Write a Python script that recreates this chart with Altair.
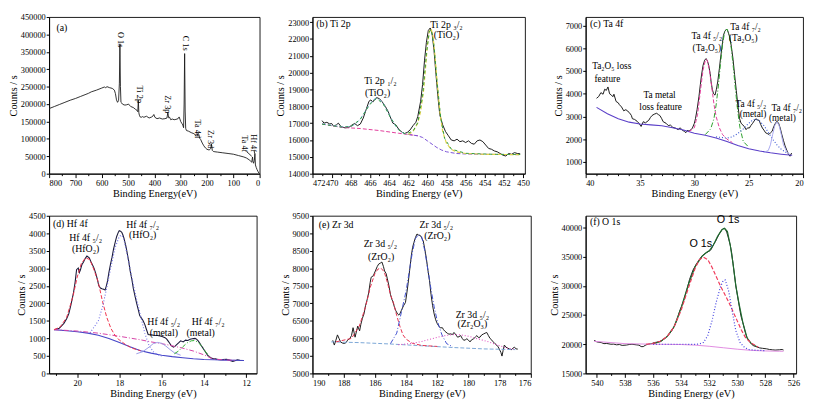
import altair as alt
import pandas as pd

SERIF = "Liberation Serif"
SANS = "Liberation Sans"

# ---------------- (a) survey ----------------
a_E = [800, 780, 760, 740, 720, 700, 680, 660, 650, 640,
       620, 600, 590, 585, 580, 570, 560, 552, 548, 544,
       540, 536, 533, 531, 529, 527, 524, 520, 512, 505,
       498, 495, 490, 480, 472, 466, 463, 461, 459, 457,
       454, 450, 445, 440, 430, 420, 410, 405, 402, 398,
       390, 380, 370, 360, 352, 349, 347, 345, 342, 338,
       332, 325, 318, 310, 306, 303, 300, 296, 292, 289,
       287, 285, 283, 281, 278, 270, 260, 250, 242, 238,
       234, 231, 228, 224, 218, 212, 206, 200, 192, 186,
       183, 180, 176, 170, 160, 140, 120, 100, 80, 60,
       50, 40, 34, 30, 27, 25, 23, 20, 18, 16,
       13, 10, 6, 3, 1]
a_C = [187000, 193000, 199000, 205000, 211000, 216000, 222000, 228000, 231000, 235000,
       240000, 246000, 249000, 247000, 250000, 247000, 245000, 240000, 230000, 212000,
       205000, 210000, 260000, 373000, 250000, 205000, 203000, 199000, 197000, 198000,
       200000, 197000, 193000, 190000, 185000, 182000, 178000, 211000, 175000, 168000,
       163000, 162000, 164000, 162000, 165000, 160000, 163000, 166000, 170000, 162000,
       158000, 160000, 157000, 158000, 160000, 176000, 168000, 160000, 162000, 155000,
       157000, 155000, 156000, 158000, 163000, 157000, 150000, 145000, 140000, 132000,
       200000, 345000, 180000, 130000, 124000, 122000, 118000, 115000, 110000, 107000,
       116000, 112000, 102000, 98000, 88000, 80000, 74000, 70000, 68000, 72000,
       85000, 67000, 64000, 63000, 62000, 60000, 58000, 56000, 52000, 48000,
       45000, 40000, 36000, 33000, 48000, 34000, 30000, 38000, 58000, 25000,
       18000, 12000, 6000, 2000, 500]
a_lab = ["O 1s", "Ti 2p", "Zr 3p", "C 1s", "Ta 4d", "Zr 3d", "Ta 4f", "Hf 4f"]
a_labE = [526, 454, 348, 280, 236, 186, 55, 22]
a_labC = [385000, 228000, 199000, 375000, 129000, 99000, 86000, 88000]
a_arrE = [50, 21]
a_arrC = [64000, 66000]
a_arrE2 = [30, 19]
a_arrC2 = [50000, 58000]

# ---------------- (b) Ti 2p ----------------
b_E = [471.0, 470.8, 470.5, 470.2, 470.0, 469.8, 469.5, 469.3, 469.0, 468.6,
       468.2, 467.9, 467.6, 467.3, 467.0, 466.7, 466.4, 466.1, 465.9, 465.7,
       465.5, 465.3, 465.0, 464.7, 464.4, 464.1, 463.9, 463.6, 463.3, 463.0,
       462.7, 462.4, 462.1, 461.8, 461.5, 461.2, 461.0, 460.7, 460.5, 460.3,
       460.1, 459.9, 459.7, 459.5, 459.3, 459.1, 458.9, 458.7, 458.4, 458.1,
       457.8, 457.5, 457.2, 456.9, 456.6, 456.3, 456.0, 455.7, 455.4, 455.1,
       454.8, 454.5, 454.2, 453.9, 453.6, 453.3, 453.0, 452.7, 452.4, 452.1,
       451.8, 451.5, 451.2, 450.9, 450.6, 450.3]
b_C = [17150, 17000, 17050, 16950, 16980, 16820, 16900, 17000, 16780, 16720,
       16750, 16880, 16980, 16850, 16950, 17300, 17800, 18300, 18380, 18250,
       18430, 18520, 18450, 18250, 18000, 17700, 17400, 17000, 16900, 16650,
       16480, 16380, 16450, 16600, 16850, 17050, 17400, 18300, 19300, 20700,
       21800, 22500, 22650, 22300, 21300, 19900, 18600, 17500, 16900, 16500,
       16250, 16000, 15950, 16050, 15900, 15950, 15850, 15950, 15800, 15750,
       15950, 16000, 15900, 15700, 15500, 15450, 15350, 15300, 15200, 15100,
       15050, 15200, 15150, 15250, 15200, 15180]
b_bg1_E = [471, 469, 467, 465, 463, 462, 461]
b_bg1_C = [16950, 16750, 16680, 16560, 16400, 16330, 16250]
b_bg2_E = [462, 461, 460.5, 460, 459.5, 459, 458.5, 458, 457, 456, 454, 452, 450.3]
b_bg2_C = [16330, 16250, 16150, 15950, 15750, 15550, 15400, 15300, 15200, 15170, 15150, 15140, 15130]
b_p1_E = [471, 469, 468, 467.5, 467, 466.5, 466, 465.6, 465.3, 465, 464.6, 464.2, 463.8, 463.4, 463, 462.5, 462]
b_p1_C = [16960, 16780, 16800, 16950, 17250, 17700, 18150, 18400, 18480, 18400, 18150, 17750, 17300, 16900, 16600, 16400, 16330]
b_p2_E = [462, 461.5, 461, 460.7, 460.4, 460.2, 460, 459.8, 459.6, 459.4, 459.2, 459, 458.7, 458.4, 458, 457.5, 457, 456, 454, 452, 450.3]
b_p2_C = [16330, 16500, 17000, 17700, 18900, 20200, 21600, 22450, 22600, 22100, 21000, 19600, 17700, 16500, 15800, 15450, 15300, 15200, 15150, 15140, 15130]
b_env_E = [471, 469, 468, 467, 466, 465.3, 464.6, 463.8, 463, 462.3, 461.5, 461, 460.5, 460.1, 459.8, 459.6, 459.3, 459, 458.6, 458.2, 457.5, 456, 453, 450.3]
b_env_C = [16940, 16770, 16790, 17230, 18120, 18470, 18130, 17280, 16600, 16360, 16520, 17030, 18600, 21100, 22420, 22550, 21600, 19550, 17300, 16100, 15460, 15210, 15150, 15140]
b_lab = ["Ti 2p \u2081/\u2082", "(TiO\u2082)", "Ti 2p \u2083/\u2082", "(TiO\u2082)"]
b_labE = [464.9, 465.2, 458.0, 458.0]
b_labC = [19520, 18770, 22850, 22250]

# ---------------- (c) Ta 4f ----------------
c_E = [39.0, 38.8, 38.6, 38.4, 38.25, 38.1, 37.95, 37.8, 37.65, 37.5,
       37.4, 37.2, 37.0, 36.9, 36.7, 36.5, 36.3, 36.0, 35.8, 35.7,
       35.5, 35.27, 35.1, 34.9, 34.7, 34.5, 34.2, 34.05, 33.9, 33.7,
       33.47, 33.3, 33.17, 33.0, 32.87, 32.6, 32.4, 32.2, 31.98, 31.7,
       31.5, 31.3, 31.08, 30.9, 30.8, 30.6, 30.5, 30.3, 30.18, 30.0,
       29.9, 29.75, 29.58, 29.45, 29.34, 29.2, 29.05, 28.92, 28.8, 28.68,
       28.55, 28.47, 28.35, 28.23, 28.1, 27.97, 27.84, 27.7, 27.6, 27.45,
       27.33, 27.2, 27.04, 26.95, 26.85, 26.74, 26.6, 26.44, 26.3, 26.14,
       26.0, 25.84, 25.7, 25.54, 25.4, 25.24, 25.1, 24.94, 24.8, 24.64,
       24.5, 24.34, 24.2, 24.04, 23.9, 23.74, 23.6, 23.44, 23.3, 23.14,
       23.0, 22.84, 22.7, 22.54, 22.4, 22.25, 22.1, 21.95, 21.8, 21.65,
       21.5, 21.35, 21.2, 21.05]
c_C = [3800, 3880, 4050, 3980, 4200, 4150, 4300, 4000, 3950, 3870,
       3980, 3660, 3600, 3520, 3420, 3250, 3300, 3180, 3050, 2900,
       2870, 2790, 2700, 2560, 2770, 2720, 2830, 2950, 3040, 3100,
       3140, 3080, 3040, 2900, 2770, 2700, 2600, 2620, 2520, 2480,
       2420, 2500, 2380, 2350, 2280, 2400, 2350, 2420, 2490, 2700,
       2900, 3300, 3870, 4400, 4830, 5250, 5480, 5550, 5450, 5250,
       4900, 4560, 4200, 4000, 3940, 4200, 4560, 5100, 5530, 6100,
       6560, 6750, 6850, 6800, 6650, 6490, 6100, 5520, 4850, 4140,
       3500, 2900, 2700, 2630, 2550, 2420, 2500, 2490, 2600, 2700,
       2800, 2900, 2850, 2830, 2650, 2490, 2400, 2280, 2250, 2210,
       2280, 2350, 2550, 2700, 2790, 2700, 2490, 2200, 1940, 1700,
       1520, 1350, 1250, 1390]
c_bg_E = [39, 38, 37, 36, 35, 34, 33, 32, 31, 30, 29, 28, 27, 26, 25, 24, 23, 22, 21]
c_bg_C = [3400, 3120, 2900, 2750, 2670, 2630, 2590, 2500, 2400, 2260, 2170, 2050, 1900, 1720, 1580, 1480, 1400, 1340, 1290]
c_p1_E = [30.5, 30, 29.7, 29.4, 29.2, 29.0, 28.9, 28.8, 28.6, 28.4, 28.2, 28.0, 27.7, 27.4, 27.0, 26.5]
c_p1_C = [2330, 2500, 3100, 4300, 5050, 5450, 5520, 5450, 5000, 4300, 3550, 3000, 2500, 2200, 2000, 1850]
c_p2_E = [29.0, 28.5, 28.2, 28.0, 27.8, 27.6, 27.4, 27.2, 27.0, 26.8, 26.6, 26.4, 26.2, 26.0, 25.8, 25.5, 25.0]
c_p2_C = [2200, 2450, 2900, 3500, 4300, 5300, 6200, 6750, 6850, 6600, 6000, 5100, 4100, 3200, 2500, 1900, 1650]
c_p3_E = [28, 27, 26.5, 26, 25.5, 25, 24.6, 24.3, 24.0, 23.6, 23.2, 22.8, 22.4, 22.0, 21.5]
c_p3_C = [2100, 2050, 2100, 2250, 2450, 2700, 2850, 2870, 2800, 2600, 2300, 2000, 1750, 1550, 1400]
c_p4_E = [23.6, 23.2, 23.0, 22.8, 22.6, 22.4, 22.2, 22.0, 21.8, 21.5, 21.2]
c_p4_C = [1420, 1500, 1750, 2200, 2600, 2750, 2600, 2200, 1750, 1450, 1320]
c_lab = ["Ta\u2082O\u2085 loss", "feature", "Ta metal", "loss feature",
         "Ta 4f \u2085/\u2082", "(Ta\u2082O\u2085)", "Ta 4f \u2087/\u2082", "(Ta\u2082O\u2085)",
         "Ta 4f \u2085/\u2082", "(metal)", "Ta 4f \u2087/\u2082", "(metal)"]
c_labE = [37.6, 38.0, 33.2, 33.1, 28.85, 28.85, 25.3, 25.5, 24.8, 24.6, 21.5, 21.9]
c_labC = [5200, 4650, 3930, 3400, 6540, 6000, 6950, 6450, 3560, 3100, 3380, 2930]

# ---------------- (d) Hf 4f ----------------
d_E = [21.08, 20.95, 20.85, 20.74, 20.63, 20.5, 20.4, 20.3, 20.18, 20.1,
       20.03, 19.95, 19.9, 19.85, 19.78, 19.7, 19.66, 19.6, 19.54, 19.43,
       19.36, 19.28, 19.2, 19.13, 19.05, 18.98, 18.9, 18.83, 18.75, 18.68,
       18.62, 18.56, 18.5, 18.43, 18.35, 18.28, 18.2, 18.13, 18.06, 18.01,
       17.95, 17.89, 17.84, 17.79, 17.7, 17.64, 17.56, 17.49, 17.41, 17.34,
       17.26, 17.19, 17.1, 17.04, 16.96, 16.89, 16.8, 16.74, 16.64, 16.5,
       16.37, 16.2, 16.07, 15.95, 15.84, 15.76, 15.7, 15.62, 15.55, 15.44,
       15.36, 15.29, 15.2, 15.1, 14.98, 14.87, 14.76, 14.65, 14.55, 14.42,
       14.35, 14.27, 14.2, 14.13, 14.05, 13.98, 13.9, 13.83, 13.75, 13.68,
       13.56, 13.45, 13.35, 13.23, 13.1, 12.93, 12.8, 12.63, 12.5, 12.41,
       12.3, 12.11]
d_C = [1247, 1270, 1290, 1360, 1430, 1560, 1700, 1950, 2290, 2600,
       2960, 3010, 2880, 2950, 3100, 3180, 3235, 3300, 3350, 3300,
       3200, 3100, 3000, 2870, 2700, 2510, 2440, 2420, 2400, 2380,
       2500, 2650, 2880, 3100, 3320, 3550, 3750, 3910, 4020, 4075,
       4060, 4030, 3960, 3870, 3650, 3460, 3200, 2920, 2680, 2420,
       2200, 2015, 1800, 1650, 1580, 1520, 1400, 1290, 1110, 1100,
       1090, 1085, 1070, 1050, 1020, 980, 930, 860, 795, 750,
       780, 820, 870, 930, 900, 950, 940, 975, 990, 1000,
       980, 930, 870, 795, 730, 660, 590, 525, 480, 450,
       420, 415, 400, 390, 395, 405, 380, 345, 370, 390,
       375, 370]
d_bg_E = [21.1, 20.5, 20.0, 19.5, 19.0, 18.5, 18.0, 17.5, 17.0, 16.5, 16.0, 15.5, 15.0, 14.5, 14.0, 13.5, 13.0, 12.5, 12.1]
d_bg_C = [1250, 1220, 1190, 1150, 1090, 1000, 880, 760, 650, 580, 520, 480, 450, 420, 400, 390, 380, 375, 370]
d_bg2_E = [21.1, 20.0, 19.0, 18.0, 17.0, 16.5, 16.0, 15.5, 15.0, 14.5, 14.0, 13.7, 13.5, 13.0, 12.5]
d_bg2_C = [1250, 1210, 1150, 1060, 960, 900, 850, 790, 720, 640, 530, 450, 410, 385, 375]
d_p1_E = [21.1, 20.8, 20.5, 20.2, 20.0, 19.8, 19.6, 19.4, 19.2, 19.0, 18.8, 18.6, 18.4, 18.2, 18.0, 17.7, 17.4, 17.0]
d_p1_C = [1250, 1330, 1600, 2200, 2750, 3150, 3300, 3250, 2950, 2600, 2050, 1600, 1280, 1080, 950, 820, 720, 650]
d_p2_E = [19.4, 19.0, 18.8, 18.6, 18.4, 18.2, 18.0, 17.9, 17.8, 17.6, 17.4, 17.2, 17.0, 16.8, 16.6, 16.4, 16.2, 16.0]
d_p2_C = [1150, 1500, 1900, 2450, 3050, 3600, 3920, 3950, 3850, 3300, 2700, 2150, 1650, 1150, 800, 620, 540, 500]
d_p3_E = [17.2, 16.9, 16.6, 16.4, 16.2, 16.0, 15.8, 15.6, 15.4, 15.1]
d_p3_C = [560, 620, 750, 850, 885, 860, 780, 680, 590, 520]
d_p4_E = [15.4, 15.2, 15.0, 14.8, 14.6, 14.45, 14.3, 14.1, 13.9, 13.7]
d_p4_C = [560, 640, 760, 870, 930, 940, 900, 780, 600, 470]
d_lab = ["Hf 4f \u2085/\u2082", "(HfO\u2082)", "Hf 4f \u2087/\u2082", "(HfO\u2082)",
         "Hf 4f \u2085/\u2082", "(metal)", "Hf 4f \u2087/\u2082", "(metal)"]
d_labE = [19.6, 19.6, 16.9, 16.9, 15.9, 15.9, 13.8, 14.15]
d_labC = [3870, 3550, 4230, 3960, 1480, 1160, 1480, 1160]

# ---------------- (e) Zr 3d ----------------
e_E = [188.7, 188.6, 188.5, 188.4, 188.3, 188.2, 188.1, 187.96, 187.85, 187.75,
       187.6, 187.5, 187.4, 187.27, 187.1, 186.98, 186.9, 186.8, 186.7, 186.6,
       186.5, 186.4, 186.3, 186.24, 186.1, 185.97, 185.85, 185.76, 185.65, 185.55,
       185.45, 185.38, 185.28, 185.2, 185.1, 185.0, 184.9, 184.86, 184.75, 184.67,
       184.55, 184.46, 184.38, 184.3, 184.16, 184.04, 183.95, 183.87, 183.77, 183.66,
       183.58, 183.5, 183.4, 183.3, 183.2, 183.07, 182.98, 182.9, 182.8, 182.7,
       182.6, 182.5, 182.4, 182.3, 182.2, 182.1, 182.0, 181.9, 181.8, 181.67,
       181.6, 181.5, 181.35, 181.25, 181.14, 181.03, 180.93, 180.8, 180.7, 180.6,
       180.5, 180.4, 180.3, 180.2, 180.1, 180.0, 179.9, 179.8, 179.67, 179.55,
       179.46, 179.35, 179.25, 179.15, 179.04, 178.93, 178.83, 178.72, 178.62, 178.5,
       178.41, 178.3, 178.2, 178.1, 178.0, 177.92, 177.85, 177.78, 177.7, 177.6,
       177.47, 177.35, 177.26, 177.15, 177.05, 176.95, 176.84]
e_C = [5945, 5810, 5950, 6100, 6000, 5900, 5870, 5855, 5880, 5950,
       6000, 6080, 6305, 6035, 6350, 6215, 6400, 6575, 6700, 6935,
       7100, 7295, 7600, 7745, 7790, 7925, 8050, 8120, 8150, 8180,
       8050, 7925, 7850, 7700, 7500, 7250, 7100, 7070, 6900, 6800,
       6700, 6665, 6720, 6800, 6935, 7025, 7300, 7565, 7950, 8375,
       8600, 8735, 8880, 8980, 8950, 8930, 8850, 8780, 8550, 8285,
       7950, 7655, 7250, 6935, 6700, 6530, 6420, 6350, 6300, 6305,
       6250, 6200, 6145, 6120, 6130, 6110, 6170, 6100, 6035, 6050,
       6080, 6000, 5945, 5960, 5990, 5950, 5900, 5960, 5990, 6040,
       6080, 6020, 6040, 6100, 6125, 6150, 6170, 6080, 6000, 5950,
       5900, 5850, 5810, 5760, 5675, 5600, 5495, 5650, 5810, 5750,
       5720, 5690, 5675, 5720, 5750, 5700, 5695]
e_bg_E = [188.8, 187, 185, 183, 181, 179, 177]
e_bg_C = [5900, 5880, 5840, 5790, 5740, 5700, 5680]
e_p1_E = [188.5, 187.5, 187, 186.6, 186.3, 186, 185.8, 185.6, 185.4, 185.2, 185.0, 184.8, 184.6, 184.4, 184.2, 184.0, 183.6, 183.0, 182.0]
e_p1_C = [5900, 6000, 6350, 6900, 7450, 7850, 7980, 8000, 7900, 7600, 7250, 7000, 6650, 6350, 6100, 5980, 5860, 5800, 5770]
e_p2_E = [185.0, 184.6, 184.3, 184.0, 183.8, 183.6, 183.4, 183.2, 183.0, 182.8, 182.6, 182.4, 182.2, 182.0, 181.7, 181.4, 181.0]
e_p2_C = [5850, 6150, 6750, 7350, 7900, 8450, 8850, 8970, 8900, 8500, 7950, 7400, 6900, 6500, 6100, 5850, 5760]
e_p3_E = [184.5, 184, 183.5, 183, 182.5, 182, 181.5, 181, 180.5, 180, 179.5, 179, 178.5, 178, 177.5, 177]
e_p3_C = [5820, 5840, 5870, 5910, 5970, 6030, 6080, 6110, 6100, 6060, 6000, 5940, 5870, 5790, 5720, 5690]
e_lab = ["Zr 3d \u2085/\u2082", "(ZrO\u2082)", "Zr 3d \u2085/\u2082", "(ZrO\u2082)", "Zr 3d \u2085/\u2082", "(Zr\u2082O\u2083)"]
e_labE = [185.65, 185.6, 182.06, 182.0, 179.75, 179.75]
e_labC = [8690, 8330, 9230, 8930, 6680, 6395]

# ---------------- (f) O 1s ----------------
f_E = [540.2, 540.0, 539.7, 539.5, 539.3, 539.0, 538.8, 538.6, 538.4, 538.2,
       537.9, 537.7, 537.5, 537.2, 537.0, 536.85, 536.7, 536.5, 536.3, 536.1,
       535.9, 535.7, 535.4, 535.1, 534.9, 534.7, 534.55, 534.4, 534.25, 534.1,
       533.95, 533.8, 533.6, 533.4, 533.15, 532.9, 532.7, 532.5, 532.3, 532.2,
       532.0, 531.9, 531.8, 531.7, 531.55, 531.45, 531.3, 531.2, 531.05, 530.95,
       530.85, 530.75, 530.65, 530.5, 530.4, 530.3, 530.2, 530.1, 529.97, 529.85,
       529.74, 529.6, 529.5, 529.4, 529.3, 529.2, 529.06, 528.95, 528.84, 528.6,
       528.4, 528.2, 527.9, 527.7, 527.5, 527.3, 527.0, 526.8, 526.7]
f_C = [20670, 20400, 20290, 20100, 20130, 20000, 20020, 19900, 19950, 19800,
       19860, 19950, 20000, 19900, 19850, 19600, 19590, 19900, 20000, 20100,
       20290, 20350, 20560, 21100, 21600, 22180, 22800, 23530, 24500, 25690,
       26600, 27580, 29200, 31090, 32710, 33790, 34490, 35140, 35500, 35680,
       35950, 36110, 36500, 37030, 37600, 38110, 38800, 39190, 39700, 39850,
       39700, 39200, 38380, 37000, 35680, 33800, 31900, 30000, 28120, 26400,
       24880, 23700, 22720, 21800, 21100, 20600, 20290, 19950, 19750, 19550,
       19370, 19300, 19210, 19100, 19050, 19000, 19050, 19100, 19000]
f_env_E = [536.0, 535.5, 535.0, 534.5, 534.0, 533.5, 533.0, 532.5, 532.2, 532.0, 531.7, 531.4,
           531.1, 530.9, 530.7, 530.5, 530.3, 530.1, 529.9, 529.6, 529.3, 529.0, 528.6]
f_env_C = [20100, 20450, 21300, 23000, 26200, 30100, 33300, 35100, 35700, 36000, 37000, 38500,
           39600, 39850, 39300, 37000, 33800, 30000, 27300, 23700, 21100, 20100, 19550]
f_bg_E = [540.2, 538, 536, 534, 533, 532, 531, 530, 529, 528, 527, 526.7]
f_bg_C = [20500, 20100, 20000, 19950, 19850, 19650, 19400, 19150, 18950, 18850, 18800, 18800]
f_p1_E = [536.5, 536, 535.5, 535, 534.5, 534, 533.5, 533, 532.7, 532.4, 532.1, 531.8, 531.5,
          531.2, 530.9, 530.6, 530.3, 530.0, 529.7, 529.4, 529.0, 528.5]
f_p1_C = [20000, 20150, 20500, 21300, 23000, 25800, 29500, 33000, 34500, 34900, 34500, 33200, 31600,
          30000, 28600, 27200, 25600, 24000, 22400, 21100, 20200, 19500]
f_p2_E = [536, 534, 533, 532.7, 532.4, 532.1, 531.8, 531.5, 531.2, 531.0, 530.85, 530.6, 530.35,
          530.1, 529.8, 529.5, 529.2, 528.8, 528]
f_p2_C = [20000, 20000, 19980, 20050, 20300, 21500, 24000, 27200, 29800, 30900, 31000, 29000, 25500,
          22300, 20300, 19500, 19100, 19000, 18900]
f_lab = ["O 1s", "O 1s"]
f_labE = [530.65, 532.6]
f_labC = [41250, 37150]

# panel tags
tags = ["(a)", "(b) Ti 2p", "(c) Ta 4f", "(d) Hf 4f", "(e) Zr 3d", "(f) O 1s"]
tagE = [772, 471.6, 39.6, 21.15, 189.6, 540.5]
tagC = [418000, 22870, 7050, 4250, 9230, 40970]

# axis ticks
a_xt = [0, 50, 100, 150, 200, 250, 300, 350, 400, 450, 500, 550, 600, 650, 700, 750, 800]
a_yt = [0, 50000, 100000, 150000, 200000, 250000, 300000, 350000, 400000, 450000]
b_xt = [450, 451, 452, 453, 454, 455, 456, 457, 458, 459, 460, 461, 462, 463, 464, 465, 466, 467, 468, 469, 470, 471, 472]
b_yt = [14000, 15000, 16000, 17000, 18000, 19000, 20000, 21000, 22000, 23000]
c_xt = [20, 21, 22, 23, 24, 25, 26, 27, 28, 29, 30, 31, 32, 33, 34, 35, 36, 37, 38, 39, 40]
c_yt = [1000, 2000, 3000, 4000, 5000, 6000, 7000]
d_xt = [12, 13, 14, 15, 16, 17, 18, 19, 20, 21]
d_yt = [0, 500, 1000, 1500, 2000, 2500, 3000, 3500, 4000, 4500]
e_xt = [176, 177, 178, 179, 180, 181, 182, 183, 184, 185, 186, 187, 188, 189, 190]
e_yt = [5000, 5500, 6000, 6500, 7000, 7500, 8000, 8500, 9000, 9500]
f_xt = [526, 527, 528, 529, 530, 531, 532, 533, 534, 535, 536, 537, 538, 539, 540]
f_yt = [15000, 20000, 25000, 30000, 35000, 40000]

SOLID = [1, 0]
DASH = [4, 2]
DOT = [1, 2]
DASHDOT = [5, 2, 1, 2]


def text_df(E, C, T):
    assert len(E) == len(C) == len(T)
    return pd.DataFrame({"E": E, "C": C, "t": T})


def panel(series, xdom, ydom, xt, xmod, yt, xtitle, w, h, texts, extra=None):
    xs = alt.Scale(domain=xdom, nice=False, zero=False)
    ys = alt.Scale(domain=ydom, nice=False, zero=False)
    test = f"datum.value % {xmod} === 0"
    xa = alt.Axis(values=xt, labelExpr=f"({test}) ? datum.label : ''",
                  tickSize={"condition": {"test": test, "value": 4}, "value": 2},
                  labelOverlap=False, title=xtitle, format="d",
                  labelPadding=1, titlePadding=2)
    ya = alt.Axis(values=yt, format="d", title="Counts / s", labelOverlap=False,
                  tickSize=3, labelPadding=1, titlePadding=2)
    layers = []
    for key, E, C, color, dash, width in series:
        assert len(E) == len(C), key
        df = pd.DataFrame({"E": E, "C": C, "i": list(range(len(E)))})
        mk = dict(color=color, strokeWidth=width, clip=True)
        if dash != SOLID:
            mk["strokeDash"] = dash
        layers.append(alt.Chart(df).mark_line(**mk).encode(
            x=alt.X("E:Q", scale=xs, axis=xa),
            y=alt.Y("C:Q", scale=ys, axis=ya),
            order=alt.Order("i:Q")))
    for tdf, kw in texts:
        layers.append(alt.Chart(tdf).mark_text(**kw).encode(
            x=alt.X("E:Q", scale=xs, axis=xa),
            y=alt.Y("C:Q", scale=ys, axis=ya),
            text="t:N"))
    if extra is not None:
        layers.append(extra(xs, ys, xa, ya))
    return alt.layer(*layers).properties(width=w, height=h)


CENTER = dict(font=SERIF, fontSize=10, align="center", baseline="middle", color="black")
CENTER_S = dict(font=SERIF, fontSize=9.5, align="center", baseline="middle", color="black")
LEFT = dict(font=SERIF, fontSize=10, align="left", baseline="middle", color="black")
VERT = dict(font=SERIF, fontSize=8.5, align="center", baseline="middle", color="black", angle=90)
SANSLAB = dict(font=SANS, fontSize=11, align="center", baseline="middle", color="black")


def tag(k):
    return (text_df([tagE[k]], [tagC[k]], [tags[k]]), LEFT)


def a_arrows(xs, ys, xa, ya):
    adf = pd.DataFrame({"E": a_arrE, "C": a_arrC, "E2": a_arrE2, "C2": a_arrC2})
    return alt.Chart(adf).mark_rule(color="black", strokeWidth=0.8).encode(
        x=alt.X("E:Q", scale=xs, axis=xa), y=alt.Y("C:Q", scale=ys, axis=ya),
        x2="E2:Q", y2="C2:Q")


H1, H2 = 160, 161

A = panel([("raw", a_E, a_C, "#1a1a1a", SOLID, 0.9)],
          [800, 0], [0, 450000], a_xt, 100, a_yt, "Binding Energy(eV)", 215, H1,
          [tag(0), (text_df(a_labE, a_labC, a_lab), VERT)], extra=a_arrows)

B = panel([("raw", b_E, b_C, "#1a1a1a", SOLID, 1.0),
           ("bg1", b_bg1_E, b_bg1_C, "#e23c9c", DASH, 1.0),
           ("bg2", b_bg2_E, b_bg2_C, "#7b52d6", DASH, 1.0),
           ("p1", b_p1_E, b_p1_C, "#7fb3e6", DASH, 1.0),
           ("p2", b_p2_E, b_p2_C, "#e0d24a", DASH, 1.2),
           ("env", b_env_E, b_env_C, "#2e9a3a", [3, 3], 1.0)],
          [472, 449.8], [14000, 23300], b_xt, 2, b_yt, "Binding Energy (eV)", 217, H1,
          [tag(1), (text_df(b_labE, b_labC, b_lab), CENTER)])

C = panel([("raw", c_E, c_C, "#1a1a1a", SOLID, 1.0),
           ("bg", c_bg_E, c_bg_C, "#5a3fc8", SOLID, 1.1),
           ("p1", c_p1_E, c_p1_C, "#e23c9c", DASH, 1.0),
           ("p2", c_p2_E, c_p2_C, "#2aa02a", DASHDOT, 1.0),
           ("p3", c_p3_E, c_p3_C, "#3050d0", DOT, 1.1),
           ("p4", c_p4_E, c_p4_C, "#a8a8f0", SOLID, 1.0)],
          [40, 20], [480, 7380], c_xt, 5, c_yt, "Binding Energy (eV)", 222, H1,
          [tag(2), (text_df(c_labE, c_labC, c_lab), CENTER_S)])

D = panel([("raw", d_E, d_C, "#1a1a3a", SOLID, 1.1),
           ("bg", d_bg_E, d_bg_C, "#4646c8", SOLID, 1.1),
           ("bg2", d_bg2_E, d_bg2_C, "#d640a6", DASHDOT, 1.0),
           ("p1", d_p1_E, d_p1_C, "#f0304a", DASH, 1.0),
           ("p2", d_p2_E, d_p2_C, "#6a6ae6", DOT, 1.1),
           ("p3", d_p3_E, d_p3_C, "#9c9ce6", SOLID, 1.0),
           ("p4", d_p4_E, d_p4_C, "#30b030", DASHDOT, 1.0)],
          [21.33, 11.5], [0, 4500], d_xt, 2, d_yt, "Binding Energy (eV)", 212, H2,
          [tag(3), (text_df(d_labE, d_labC, d_lab), CENTER)])

E = panel([("raw", e_E, e_C, "#1a1a1a", SOLID, 1.0),
           ("bg", e_bg_E, e_bg_C, "#7aa6d6", DASH, 1.0),
           ("p1", e_p1_E, e_p1_C, "#e6304e", DASH, 1.0),
           ("p2", e_p2_E, e_p2_C, "#4050d0", DASHDOT, 1.0),
           ("p3", e_p3_E, e_p3_C, "#e050c0", DOT, 1.1)],
          [190, 176], [5000, 9500], e_xt, 2, e_yt, "Binding Energy (eV)", 223, H2,
          [tag(4), (text_df(e_labE, e_labC, e_lab), CENTER)])

F = panel([("raw", f_E, f_C, "#1a1a1a", SOLID, 1.0),
           ("bg", f_bg_E, f_bg_C, "#e08ae0", SOLID, 1.0),
           ("env", f_env_E, f_env_C, "#1e6a2e", SOLID, 1.2),
           ("p1", f_p1_E, f_p1_C, "#f03a5a", DASH, 1.2),
           ("p2", f_p2_E, f_p2_C, "#4040e0", DOT, 1.2)],
          [540.8, 525.8], [15000, 42000], f_xt, 2, f_yt, "Binding Energy (eV)", 215, H2,
          [tag(5), (text_df(f_labE, f_labC, f_lab), SANSLAB)])


def spacer(w):
    return alt.Chart(pd.DataFrame({"v": [0]})).mark_point(opacity=0, size=1).encode(
        x=alt.value(0), y=alt.value(0)
    ).properties(width=w, height=10, view=alt.ViewBackground(stroke="transparent"))


chart = alt.concat(
    A, spacer(54), B, spacer(47), C, spacer(1),
    D, spacer(49), E, spacer(56), F, spacer(1),
    columns=6,
    spacing={"row": 43, "column": 0},
    align={"row": "each", "column": "none"},
    bounds="flush",
).properties(
    padding=0
).configure_view(
    stroke="black", strokeWidth=0.9
).configure_axis(
    labelFont=SERIF, labelFontSize=8.5, titleFont=SERIF, titleFontSize=10.5,
    titleFontWeight="normal", labelColor="black", titleColor="black",
    tickColor="black", domainColor="black", grid=False
)

chart.save("out.html", embed_options={"renderer": "svg", "actions": False})
